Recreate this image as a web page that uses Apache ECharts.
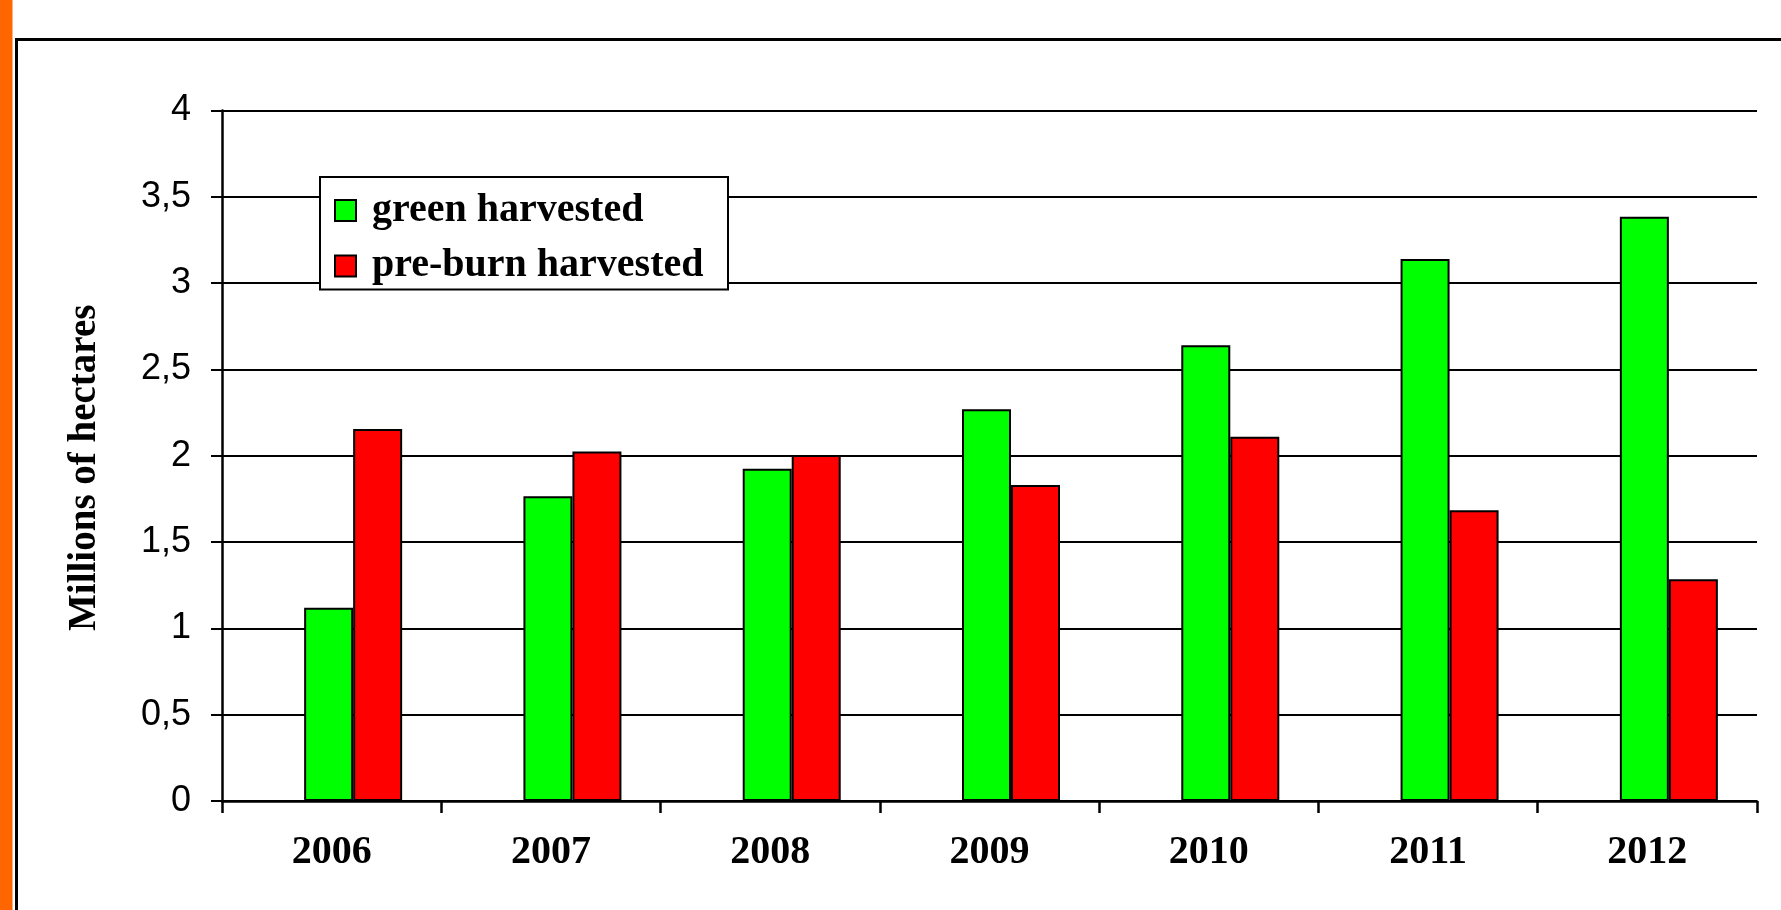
<!DOCTYPE html>
<html>
<head>
<meta charset="utf-8">
<script src="https://cdn.jsdelivr.net/npm/echarts@6/dist/echarts.min.js"></script>
<style>
html,body{margin:0;padding:0;background:#fff;}
#chart{width:1781px;height:910px;}
</style>
</head>
<body>
<div id="chart"></div>
<script>
const years = ['2006', '2007', '2008', '2009', '2010', '2011', '2012'];
const greenHarvested = [1.12, 1.765, 1.925, 2.27, 2.64, 3.14, 3.385];
const preBurnHarvested = [2.155, 2.025, 2.005, 1.83, 2.11, 1.685, 1.285];
const seriesNames = ['green harvested', 'pre-burn harvested'];
const yAxisTitle = 'Millions of hectares';

const chart = echarts.init(document.getElementById('chart'), null, {renderer: 'canvas'});
const barBorder = {borderColor: '#000', borderWidth: 2};
chart.setOption({
  animation: false,
  backgroundColor: '#fff',
  graphic: [
    {type: 'rect', shape: {x: 0, y: 0, width: 12.5, height: 910}, style: {fill: '#FF6600'}, silent: true},
    {type: 'rect', shape: {x: 16.5, y: 39.5, width: 1800, height: 1000}, style: {fill: 'none', stroke: '#000', lineWidth: 3}, silent: true}
  ],
  grid: {left: 222, right: 24, top: 110.5, bottom: 109, containLabel: false},
  legend: {
    orient: 'vertical',
    left: 320, top: 177,
    data: seriesNames,
    icon: 'rect',
    itemWidth: 21, itemHeight: 21, itemGap: 15.5,
    padding: [13.5, 15, 3.5, 14],
    borderColor: '#000', borderWidth: 2,
    backgroundColor: '#fff',
    selectedMode: false,
    textStyle: {
      fontFamily: 'Liberation Serif', fontWeight: 'bold', fontSize: 40,
      color: '#000', lineHeight: 40, width: 341, padding: [0, 0, 0, 11]
    }
  },
  xAxis: {
    type: 'category',
    data: years,
    boundaryGap: true,
    axisLine: {lineStyle: {color: '#000', width: 2.5}},
    axisTick: {show: true, length: 12, alignWithLabel: false, lineStyle: {color: '#000', width: 2.5}},
    axisLabel: {fontFamily: 'Liberation Serif', fontWeight: 'bold', fontSize: 40, color: '#000', margin: 32},
    splitLine: {show: false}
  },
  yAxis: {
    type: 'value',
    min: 0, max: 4, interval: 0.5,
    name: yAxisTitle,
    nameLocation: 'middle',
    nameGap: 118,
    nameTextStyle: {fontFamily: 'Liberation Serif', fontWeight: 'bold', fontSize: 39, color: '#000', padding: [0, 24, 0, 0]},
    axisLine: {show: true, lineStyle: {color: '#000', width: 2.5}},
    axisTick: {show: true, length: 11, lineStyle: {color: '#000', width: 2}},
    axisLabel: {
      fontFamily: 'Liberation Sans', fontSize: 36, color: '#000', margin: 31,
      formatter: v => String(v).replace('.', ',')
    },
    splitLine: {show: true, lineStyle: {color: '#000', width: 2}}
  },
  series: [
    {name: 'spacer', type: 'bar', data: [], barWidth: 43, barGap: 0, silent: true},
    {name: seriesNames[0], type: 'bar', data: greenHarvested, barWidth: 49, barGap: 0,
     itemStyle: Object.assign({color: '#00FF00'}, barBorder)},
    {name: seriesNames[1], type: 'bar', data: preBurnHarvested, barWidth: 49, barGap: 0,
     itemStyle: Object.assign({color: '#FF0000'}, barBorder)}
  ]
});
</script>
</body>
</html>
